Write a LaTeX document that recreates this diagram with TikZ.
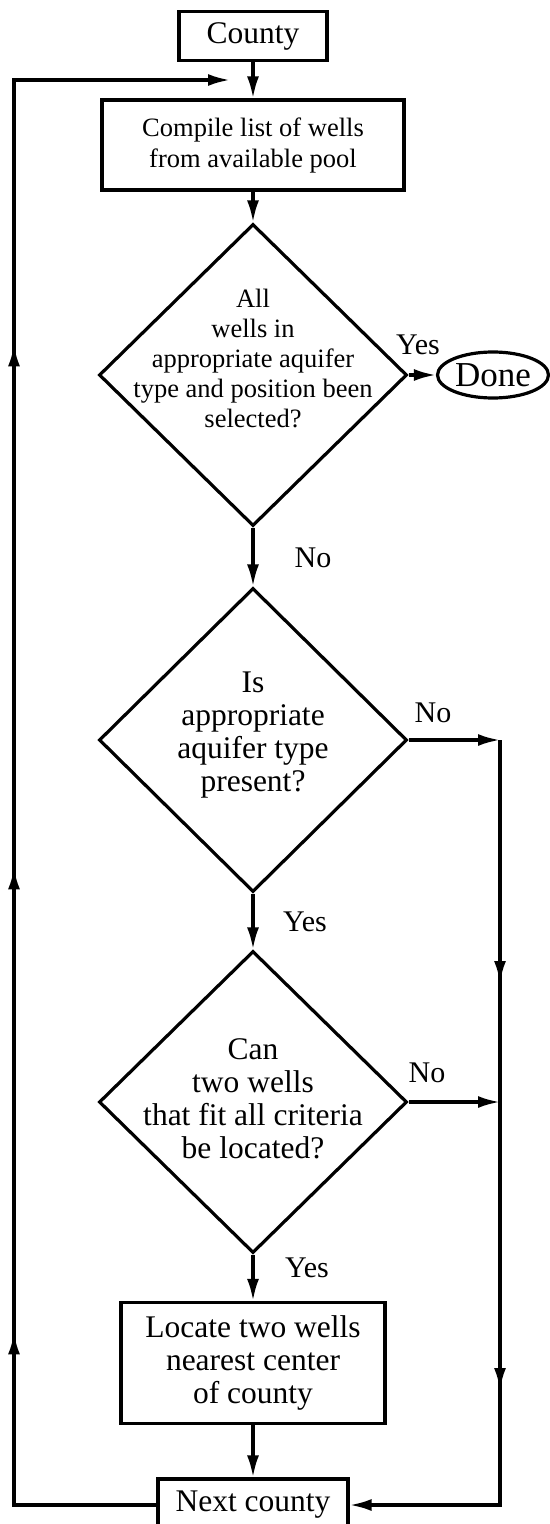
\documentclass[tikz,border=0pt]{standalone}
\usepackage{fontspec}
\setmainfont{Liberation Serif}
\usetikzlibrary{shapes.geometric,arrows.meta,decorations.markings}
\begin{document}
\begin{tikzpicture}[x=0.5pt,y=-0.5pt,
  line width=1.6pt,
  big/.style={font=\fontsize{15.75}{16.5}\selectfont},
  small/.style={font=\fontsize{13.25}{15.5}\selectfont},
  lbl/.style={font=\fontsize{15}{16}\selectfont, inner sep=0pt},
  box/.style={draw, rectangle, inner sep=0pt, align=center},
  dia/.style={draw, diamond, inner sep=0pt, minimum width=154pt, minimum height=151pt},
  txt/.style={inner sep=0pt, align=center},
  tip/.style={-{Latex[length=11pt,width=6pt]}},
  mid/.style 2 args={postaction={decorate}, decoration={markings,
     mark=at position #1 with {\arrow{Latex[length=11pt,width=6pt]}},
     mark=at position #2 with {\arrow{Latex[length=11pt,width=6pt]}}}},
  mid3/.style n args={3}{postaction={decorate}, decoration={markings,
     mark=at position #1 with {\arrow{Latex[length=11pt,width=6pt]}},
     mark=at position #2 with {\arrow{Latex[length=11pt,width=6pt]}},
     mark=at position #3 with {\arrow{Latex[length=11pt,width=6pt]}}}}
]
\clip (0,0) rectangle (550,1524);

% nodes
\node[box, big, minimum width=74pt, minimum height=24.5pt] (county) at (253,36) {County};
\node[box, small, minimum width=151pt, minimum height=45pt] (compile) at (253,145) {Compile list of wells\\from available pool};
\node[dia] (d1) at (253,375) {};
\node[txt, font=\fontsize{13.25}{15}\selectfont] (d1t) at (253,358) {All\\wells in\\appropriate aquifer\\type and position been\\selected?};
\node[draw, ellipse, inner sep=0pt, minimum width=55.5pt, minimum height=23pt, font=\fontsize{17.5}{18}\selectfont] (done) at (493,375) {Done};
\node[dia, minimum height=152pt] (d2) at (253,740) {};
\node[txt, big] (d2t) at (253,735) {Is\\appropriate\\aquifer type\\present?};
\node[dia] (d3) at (253,1102) {};
\node[txt, big] (d3t) at (253,1099) {Can\\two wells\\that fit all criteria\\be located?};
\node[box, big, minimum width=132pt, minimum height=60.5pt] (locate) at (253,1363) {Locate two wells\\nearest center\\of county};
\node[box, big, minimum width=95pt, minimum height=26pt] (next) at (253,1505) {Next county};

% labels
\node[lbl] (y1) at (418,345) {Yes};
\node[lbl] (n1) at (313,558) {No};
\node[lbl] (n2) at (433,713) {No};
\node[lbl] (y2) at (305,922) {Yes};
\node[lbl] (n3) at (427,1073) {No};
\node[lbl] (y3) at (307,1268) {Yes};

% helper coordinates
\coordinate (bl) at (14,1505);
\coordinate (tl) at (14,80);
\coordinate (tr) at (230,80);
\coordinate (r2) at (500,740);
\coordinate (r3) at (500,1102);
\coordinate (br) at (500,1505);

% connectors
\draw[tip] (county.south) -- (compile.north);
\draw[tip] (compile.south) -- (d1.north);
\draw[tip] (d1.east) -- (done.west);
\draw[tip] (d1.south) -- (d2.north);
\draw[tip] (d2.east) -- (r2);
\draw[tip] (d2.south) -- (d3.north);
\draw[tip] (d3.east) -- (r3);
\draw[tip] (d3.south) -- (locate.north);
\draw[tip] (locate.south) -- (next.north);
\draw[tip, mid={121.5pt}{325pt}] (r2) -- (br) -- (next.east);
\draw[tip, mid3={157.5pt}{390pt}{651.5pt}] (next.west) -- (bl) -- (tl) -- (tr);
\end{tikzpicture}
\end{document}
